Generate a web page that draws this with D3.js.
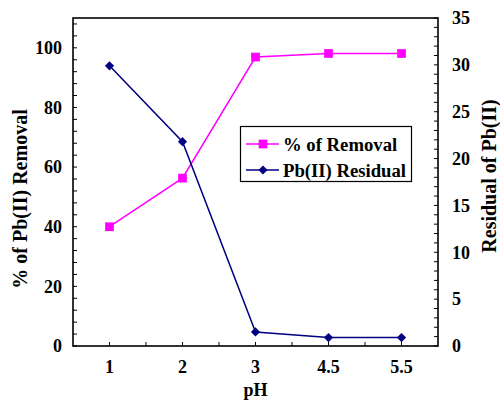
<!DOCTYPE html>
<html>
<head>
<meta charset="utf-8">
<script src="https://cdn.jsdelivr.net/npm/d3@7"></script>
<style>
  html, body { margin: 0; padding: 0; background: #fff; }
  svg text { font-family: "Liberation Serif", "Times New Roman", serif; font-weight: bold; fill: #000; }
</style>
</head>
<body>
<svg id="chart" width="500" height="401"></svg>
<script>
// pH categories (evenly spaced along the x axis)
const phLabels = ["1", "2", "3", "4.5", "5.5"];
// % of Pb(II) removal, left axis
const removal = [40.0, 56.3, 96.9, 98.1, 98.1];
// Residual Pb(II), right axis
const residual = [29.9, 21.8, 1.5, 0.9, 0.9];

const leftTicks = [0, 20, 40, 60, 80, 100];
const rightTicks = [0, 5, 10, 15, 20, 25, 30, 35];

const svg = d3.select("#chart");
const m = { left: 73, right: 62, top: 18, bottom: 55 };
const W = 500, H = 401;
const x0 = m.left, x1 = W - m.right, y0 = H - m.bottom, y1 = m.top;

const x = d3.scaleLinear().domain([-0.5, phLabels.length - 0.5]).range([x0, x1]);
const yL = d3.scaleLinear().domain([0, 110]).range([y0, y1]);
const yR = d3.scaleLinear().domain([0, 35]).range([y0, y1]);

// Frame
svg.append("rect").attr("x", x0).attr("y", y1).attr("width", x1 - x0).attr("height", y0 - y1)
  .attr("fill", "none").attr("stroke", "#000").attr("stroke-width", 1.6);

const tickLen = 4;
const fs = 18;       // tick labels
const fsLegend = 18.7;
const fsTitle = 20;  // axis titles

// Left axis: minor ticks every 4, labels every 20
const leftAxis = svg.append("g");
d3.range(0, 111, 4).forEach(v => {
  leftAxis.append("line").attr("x1", x0).attr("x2", x0 + tickLen)
    .attr("y1", yL(v)).attr("y2", yL(v)).attr("stroke", "#000").attr("stroke-width", 1);
});
leftAxis.selectAll("text").data(leftTicks).join("text")
  .attr("x", x0 - 11).attr("y", d => yL(d)).attr("dy", "0.35em")
  .attr("text-anchor", "end").attr("font-size", fs).text(d => d);

// Right axis: minor ticks every 1, labels every 5
const rightAxis = svg.append("g");
d3.range(0, 36, 1).forEach(v => {
  rightAxis.append("line").attr("x1", x1).attr("x2", x1 - tickLen)
    .attr("y1", yR(v)).attr("y2", yR(v)).attr("stroke", "#000").attr("stroke-width", 1);
});
rightAxis.selectAll("text").data(rightTicks).join("text")
  .attr("x", x1 + 14).attr("y", d => yR(d)).attr("dy", "0.35em")
  .attr("text-anchor", "start").attr("font-size", fs).text(d => d);

// Bottom axis: ticks every half category, labels at categories
const bottomAxis = svg.append("g");
d3.range(0, phLabels.length - 0.5, 0.5).forEach(v => {
  bottomAxis.append("line").attr("x1", x(v)).attr("x2", x(v))
    .attr("y1", y0).attr("y2", y0 - tickLen).attr("stroke", "#000").attr("stroke-width", 1);
});
bottomAxis.selectAll("text").data(phLabels).join("text")
  .attr("x", (d, i) => x(i)).attr("y", y0 + 27)
  .attr("text-anchor", "middle").attr("font-size", fs).text(d => d);

// Axis titles
svg.append("text").attr("x", x(2)).attr("y", 396).attr("text-anchor", "middle")
  .attr("font-size", fs).text("pH");
svg.append("text").attr("transform", `translate(27,199) rotate(-90)`)
  .attr("text-anchor", "middle").attr("font-size", fsTitle).text("% of Pb(II) Removal");
svg.append("text").attr("transform", `translate(496,176) rotate(-90)`)
  .attr("text-anchor", "middle").attr("font-size", fsTitle).text("Residual of Pb(II)");

// Series lines
const magenta = "#FF00FF", navy = "#000080";
const lineL = d3.line().x((d, i) => x(i)).y(d => yL(d));
const lineR = d3.line().x((d, i) => x(i)).y(d => yR(d));
svg.append("path").datum(removal).attr("d", lineL).attr("fill", "none")
  .attr("stroke", magenta).attr("stroke-width", 1.5);
svg.append("path").datum(residual).attr("d", lineR).attr("fill", "none")
  .attr("stroke", navy).attr("stroke-width", 1.5);

const square = d3.symbol().type(d3.symbolSquare).size(76);
const diamond = d3.symbol().type(d3.symbolSquare).size(42);

svg.append("g").selectAll("path").data(removal).join("path")
  .attr("transform", (d, i) => `translate(${x(i)},${yL(d)})`)
  .attr("d", square).attr("fill", magenta);
svg.append("g").selectAll("path").data(residual).join("path")
  .attr("transform", (d, i) => `translate(${x(i)},${yR(d)}) rotate(45)`)
  .attr("d", diamond).attr("fill", navy);

// Legend
const lg = svg.append("g");
lg.append("rect").attr("x", 240.5).attr("y", 126.5).attr("width", 171).attr("height", 55)
  .attr("fill", "#fff").attr("stroke", "#000").attr("stroke-width", 1.2);
const legendItems = [
  { name: "% of Removal", color: magenta, sym: "square", y: 144 },
  { name: "Pb(II) Residual", color: navy, sym: "diamond", y: 170 }
];
legendItems.forEach(it => {
  lg.append("line").attr("x1", 246).attr("x2", 279).attr("y1", it.y).attr("y2", it.y)
    .attr("stroke", it.color).attr("stroke-width", 1.5);
  if (it.sym === "square") {
    lg.append("path").attr("transform", `translate(263,${it.y})`).attr("d", square).attr("fill", it.color);
  } else {
    lg.append("path").attr("transform", `translate(263,${it.y}) rotate(45)`)
      .attr("d", diamond).attr("fill", it.color);
  }
  lg.append("text").attr("x", 283).attr("y", it.y).attr("dy", "0.35em")
    .attr("font-size", fsLegend).text(it.name);
});
</script>
</body>
</html>
